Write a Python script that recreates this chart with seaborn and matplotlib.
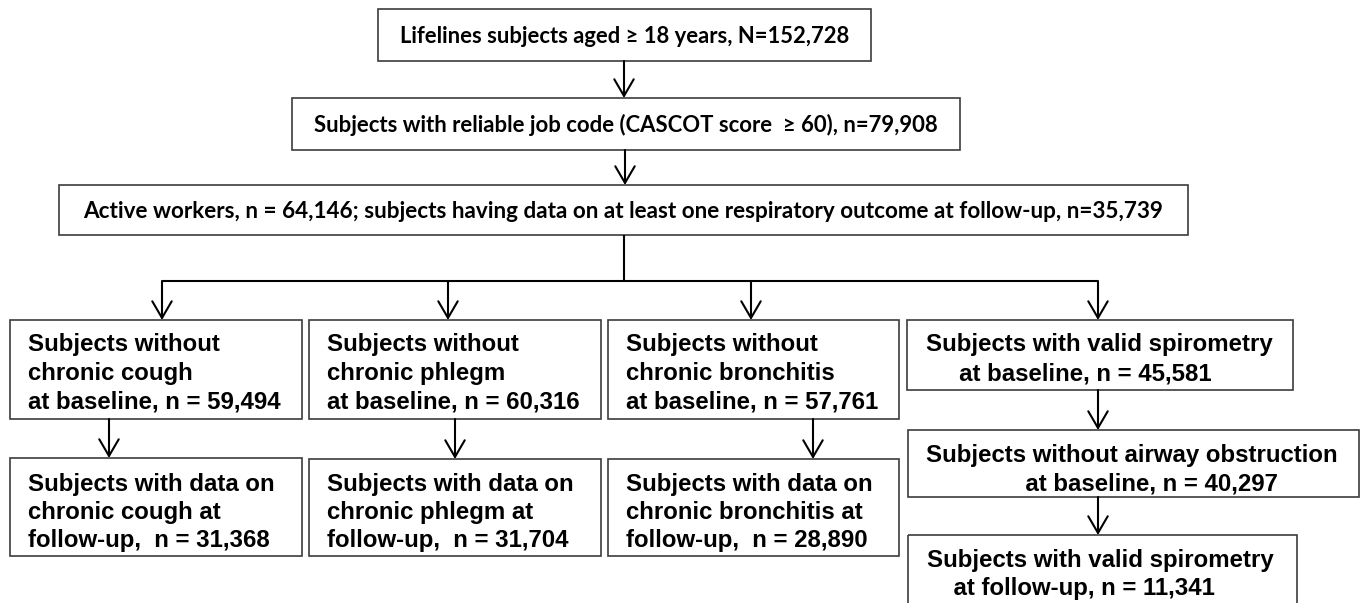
import matplotlib
matplotlib.use("Agg")
import matplotlib.pyplot as plt
from matplotlib.patches import Rectangle
import seaborn as sns

# flow chart counts
top_counts = [152728, 79908, 64146, 35739]
outcomes = ["chronic cough", "chronic phlegm", "chronic bronchitis"]
baseline_counts = [59494, 60316, 57761]
followup_counts = [31368, 31704, 28890]
spiro_counts = [45581, 40297, 11341]

sns.set_theme(style="white")
plt.rcParams['font.family'] = ['Liberation Sans', 'DejaVu Sans']

fig = plt.figure(figsize=(13.63, 6.03), dpi=100)
ax = fig.add_axes([0, 0, 1, 1])
ax.set_xlim(0, 1363)
ax.set_ylim(603, 0)
ax.axis('off')

BOX_EC = '#3c3c3c'
LOW_FS = 17.3
TOP_FONT = ['Lato', 'DejaVu Sans']


def box(x0, y0, x1, y1):
    ax.add_patch(Rectangle((x0, y0), x1 - x0, y1 - y0, fill=False,
                           ec=BOX_EC, lw=1.2))


def arrow(x, y0, y1):
    ax.annotate("", xy=(x, y1), xytext=(x, y0),
                arrowprops=dict(arrowstyle="->, head_length=1.2, head_width=0.7",
                                color='black', lw=1.5, shrinkA=0, shrinkB=0,
                                mutation_scale=10))


def line(xs, ys):
    ax.plot(xs, ys, color='black', lw=1.5, solid_capstyle='butt')


def fit_width(txt, target):
    r = fig.canvas.get_renderer()
    w = txt.get_window_extent(r).width
    txt.set_fontsize(txt.get_fontsize() * target / w)


def lines(x, baselines, texts):
    for y, s in zip(baselines, texts):
        ax.text(x, y, s, fontsize=LOW_FS, fontweight='bold', ha='left',
                va='baseline', color='black')


# top three boxes
top_texts = [
    f"Lifelines subjects aged \u2265 18 years, N={top_counts[0]:,}",
    f"Subjects with reliable job code (CASCOT score  \u2265 60), n={top_counts[1]:,}",
    f"Active workers, n = {top_counts[2]:,}; subjects having data on at least one "
    f"respiratory outcome at follow-up, n={top_counts[3]:,}",
]
top_boxes = [(378, 9, 871, 61), (292, 98, 960, 150), (59, 185, 1188, 235)]
top_base = [43, 131.5, 218]
top_widths = [451, 624, 1082]
for s, (x0, y0, x1, y1), yb, w in zip(top_texts, top_boxes, top_base, top_widths):
    box(x0, y0, x1, y1)
    t = ax.text((x0 + x1) / 2, yb, s, fontsize=16, fontweight='bold',
                family=TOP_FONT, ha='center', va='baseline', color='black')
    fit_width(t, w)

arrow(624, 61, 98)
arrow(625, 150, 185)

# branching connector
line([624, 624], [235, 281])
line([162, 1098], [281, 281])
for x in [162, 448, 751, 1098]:
    arrow(x, 281, 320)

# three symptom columns
col_x = [(10, 302), (309, 601), (608, 899)]
down_x = [109, 455, 813]
for i, name in enumerate(outcomes):
    x0, x1 = col_x[i]
    box(x0, 320, x1, 419)
    lines(x0 + 18, [351, 380, 409],
          ["Subjects without", name, f"at baseline, n = {baseline_counts[i]:,}"])
    top2 = 458 if i == 0 else 459
    arrow(down_x[i], 419, top2)
    box(x0, top2, x1, 556)
    lines(x0 + 18, [490.5, 519, 547.5],
          ["Subjects with data on", f"{name} at",
           f"follow-up,  n = {followup_counts[i]:,}"])

# spirometry column
box(907, 320, 1293, 390)
lines(926, [351, 380], ["Subjects with valid spirometry",
                        f"     at baseline, n = {spiro_counts[0]:,}"])
arrow(1098, 390, 430)
box(908, 430, 1359, 497)
lines(926, [462, 490], ["Subjects without airway obstruction",
                        f"               at baseline, n = {spiro_counts[1]:,}"])
arrow(1098, 497, 535)
box(908, 535, 1297, 640)
lines(927, [566.5, 595], ["Subjects with valid spirometry",
                          f"    at follow-up, n = {spiro_counts[2]:,}"])

plt.savefig("out.png", dpi=100, facecolor='white')
